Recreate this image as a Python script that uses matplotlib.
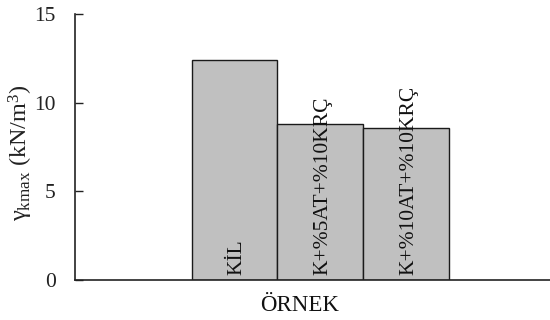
import matplotlib
matplotlib.use("Agg")
import matplotlib.pyplot as plt
import numpy as np

plt.rcParams['font.family'] = ['Liberation Serif', 'DejaVu Serif']
plt.rcParams['mathtext.fontset'] = 'custom'
plt.rcParams['mathtext.rm'] = 'Liberation Serif'
plt.rcParams['mathtext.it'] = 'Liberation Serif:italic'

# Maximum dry unit weight per sample
samples = ['KİL', 'K+%5AT+%10KRÇ', 'K+%10AT+%10KRÇ']
gamma_kmax = [12.4, 8.8, 8.55]
category = 'ÖRNEK'
y_ticks = [0, 5, 10, 15]

fig = plt.figure(figsize=(5.5, 3.2), dpi=100)
ax = fig.add_axes([75 / 550, 40 / 320, 475 / 550, 266 / 320])

width = 1.0
offsets = (np.arange(len(samples)) - 1) * width
bars = ax.bar(offsets, gamma_kmax, width=width, color='#c0c0c0',
              edgecolor='#1a1a1a', linewidth=1.0, zorder=2)

for x, name in zip(offsets, samples):
    ax.text(x + 0.03, 0.3, name, rotation=90, ha='center', va='bottom',
            fontsize=15.5, color='#111111', zorder=3)

ax.set_xlim(-2.86, 2.68)
ax.set_ylim(0, 15)
ax.set_yticks(y_ticks)
ax.set_yticklabels([str(t) for t in y_ticks], fontsize=15.5, color='#222222')
ax.set_xticks([-0.245])
ax.set_xticklabels([category], fontsize=16.5, color='#111111')
ax.tick_params(axis='x', length=0, pad=11)
ax.tick_params(axis='y', direction='in', length=6, width=1, pad=14,
               color='#222222')

for side in ('top', 'right'):
    ax.spines[side].set_visible(False)
for side in ('left', 'bottom'):
    ax.spines[side].set_color('#222222')
    ax.spines[side].set_linewidth(1.2)

ax.set_ylabel('γ$_{\\mathrm{kmax}}$ (kN/m$^3$)', fontsize=17.5,
              color='#222222')
ax.yaxis.set_label_coords(-40 / 475, 0.48)

fig.savefig('out.png', dpi=100)
